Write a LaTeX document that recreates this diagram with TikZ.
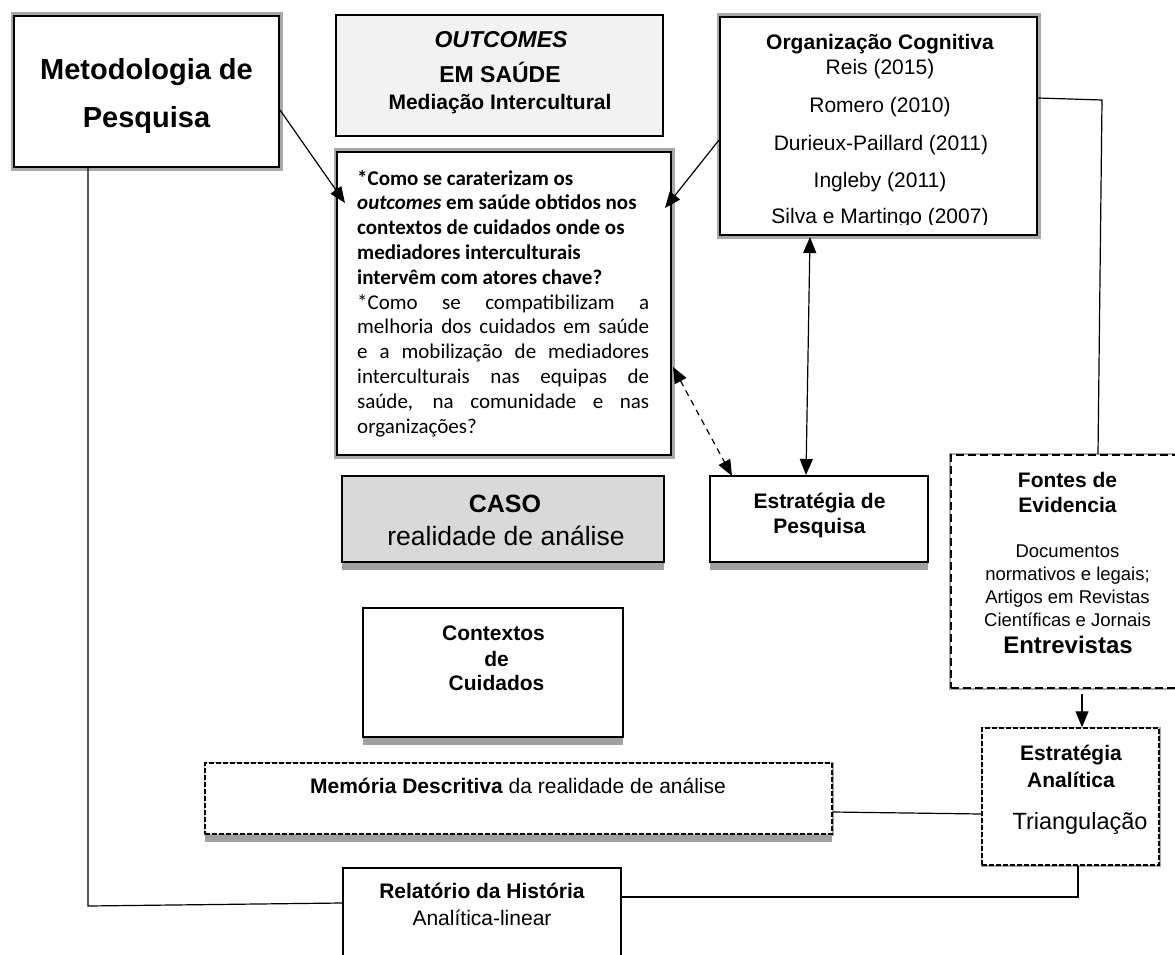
\documentclass[tikz,border=0pt]{standalone}
\usepackage{fontspec}
\setmainfont{Liberation Sans}
\newfontfamily\calib{Carlito}
\usetikzlibrary{arrows.meta}
\definecolor{shade}{HTML}{A0A0A0}
\definecolor{rim}{HTML}{A8A8A8}
\definecolor{pale}{HTML}{F2F2F2}
\definecolor{midgrey}{HTML}{D9D9D9}
\begin{document}
\begin{tikzpicture}[x=1pt,y=-1pt,
  sz/.style 2 args={minimum width=#1pt, minimum height=#2pt},
  box/.style={draw=black, line width=2pt, fill=white, rectangle, inner sep=0pt},
  rimbox/.style={box, preaction={draw=rim, line width=7pt}},
  dashbox/.style={box, dash pattern=on 8pt off 4pt, preaction={draw=rim, solid, line width=4pt}},
  finebox/.style={box, line width=1.5pt, dash pattern=on 5pt off 2pt, preaction={draw=rim, solid, line width=3pt}},
  shadowed/.style={preaction={fill=shade, draw=none, transform canvas={yshift=-8pt}}},
  t/.style={anchor=base, inner sep=0pt},
  tl/.style={anchor=base west, inner sep=0pt},
  conn/.style={line width=1.2pt},
  arr/.style={conn, -{Triangle[length=16pt,width=13pt]}},
  darr/.style={conn, {Triangle[length=16pt,width=13pt]}-{Triangle[length=16pt,width=13pt]}},
]
\useasboundingbox (0,0) rectangle (1175,955);
\clip (0,0) rectangle (1175,955);
\fill[white] (0,0) rectangle (1175,955);

% ---- boxes ----
\node[rimbox, sz={265}{151}] (meto) at (146.5,91.5) {};
\node[box, line width=1.5pt, fill=pale, sz={327}{121}] (outc) at (499.5,75.5) {};
\node[rimbox, sz={334}{303}] (ques) at (504,303.5) {};
\node[rimbox, sz={317}{218}] (org) at (878.5,126) {};
\node[box, shadowed, sz={218}{86}] (estp) at (819,519) {};
\node[box, shadowed, fill=midgrey, sz={322}{86}] (caso) at (503,519) {};
\node[box, shadowed, sz={260}{129}] (cont) at (493,672.5) {};
\node[dashbox, sz={232}{233}] (fontes) at (1067,571.5) {};
\node[finebox, sz={177}{137}] (ea) at (1070.5,796.5) {};
\node[finebox, shadowed, sz={627}{71}] (mem) at (518.5,798.5) {};
\node[box, line width=1.5pt, sz={278}{110}] (rel) at (482,923) {};

% ---- texts ----
\node[t, font=\bfseries\fontsize{29}{29}\selectfont] (meto1) at (146.5,80) {Metodologia de};
\node[t, font=\bfseries\fontsize{29}{29}\selectfont] (meto2) at (146.5,128) {Pesquisa};

\node[t, font=\bfseries\itshape\fontsize{23}{23}\selectfont] (outc1) at (501,48) {OUTCOMES};
\node[t, font=\bfseries\fontsize{23}{23}\selectfont] (outc2) at (500,83) {EM SAÚDE};
\node[t, font=\bfseries\fontsize{21}{21}\selectfont] (outc3) at (500,110) {Mediação Intercultural};

\begin{scope}[every node/.style={tl, font=\calib\fontsize{21}{21}\selectfont}]
\node (q1) at (357,185) {\bfseries *Como se caraterizam os};
\node (q2) at (357,209.8) {\bfseries\textit{outcomes} em saúde obtidos nos};
\node (q3) at (357,234.6) {\bfseries contextos de cuidados onde os};
\node (q4) at (357,259.4) {\bfseries mediadores interculturais};
\node (q5) at (357,284.2) {\bfseries intervêm com atores chave?};
\node (q6) at (357,309) {\makebox[292pt][s]{*Como se compatibilizam a}};
\node (q7) at (357,333.8) {\makebox[292pt][s]{melhoria dos cuidados em saúde}};
\node (q8) at (357,358.6) {\makebox[292pt][s]{e a mobilização de mediadores}};
\node (q9) at (357,383.4) {\makebox[292pt][s]{interculturais nas equipas de}};
\node (q10) at (357,408.2) {\makebox[292pt][s]{saúde, na comunidade e nas}};
\node (q11) at (357,433) {organizações?};
\end{scope}

\node[t, font=\bfseries\fontsize{21}{21}\selectfont] (org1) at (880,50) {Organização Cognitiva};
\begin{scope}[every node/.style={t, font=\fontsize{21}{21}\selectfont}]
\node (org2) at (880,75) {Reis (2015)};
\node (org3) at (880,113) {Romero (2010)};
\node (org4) at (881,150) {Durieux-Paillard (2011)};
\node (org5) at (880,187) {Ingleby (2011)};
\begin{scope}
\clip (720,150) rectangle (1037,224.5);
\node (org6) at (880,223) {Silva e Martingo (2007)};
\end{scope}
\end{scope}

\node[t, font=\bfseries\fontsize{21}{21}\selectfont] (estp1) at (819.5,508) {Estratégia de};
\node[t, font=\bfseries\fontsize{21}{21}\selectfont] (estp2) at (819.5,533) {Pesquisa};

\node[t, font=\bfseries\fontsize{25}{25}\selectfont] (caso1) at (505,512) {CASO};
\node[t, font=\fontsize{26.5}{26.5}\selectfont] (caso2) at (506,545) {realidade de análise};

\node[t, font=\bfseries\fontsize{21}{21}\selectfont] (cont1) at (493.5,640) {Contextos};
\node[t, font=\bfseries\fontsize{21}{21}\selectfont] (cont2) at (496.5,666) {de};
\node[t, font=\bfseries\fontsize{21}{21}\selectfont] (cont3) at (496.5,690) {Cuidados};

\node[t, font=\bfseries\fontsize{21}{21}\selectfont] (f1) at (1067.5,487) {Fontes de};
\node[t, font=\bfseries\fontsize{21}{21}\selectfont] (f2) at (1067.5,512) {Evidencia};
\node[t, font=\fontsize{18.5}{18.5}\selectfont] (f3) at (1067.5,557) {Documentos};
\node[t, font=\fontsize{18.5}{18.5}\selectfont] (f4) at (1067.5,580) {normativos e legais;};
\node[t, font=\fontsize{18.5}{18.5}\selectfont] (f5) at (1067.5,603) {Artigos em Revistas};
\node[t, font=\fontsize{18.5}{18.5}\selectfont] (f6) at (1067.5,626) {Científicas e Jornais};
\node[t, font=\bfseries\fontsize{24}{24}\selectfont] (f7) at (1068,653) {Entrevistas};

\node[t, font=\bfseries\fontsize{21}{21}\selectfont] (ea1) at (1071,760) {Estratégia};
\node[t, font=\bfseries\fontsize{21}{21}\selectfont] (ea2) at (1071,787) {Analítica};
\node[t, font=\fontsize{23.5}{23.5}\selectfont] (ea3) at (1080,829) {Triangulação};

\node[t, font=\fontsize{21}{21}\selectfont] (mem1) at (518,793) {\textbf{Memória Descritiva} da realidade de análise};

\node[t, font=\bfseries\fontsize{21}{21}\selectfont] (rel1) at (482,898) {Relatório da História};
\node[t, font=\fontsize{21}{21}\selectfont] (rel2) at (482,925) {Analítica-linear};

% ---- connectors ----
\draw[arr] (meto.east |- 0,110) -- (345,203);
\draw[arr] (org.west |- 0,140) -- (665,208);
\draw[darr] (810,237) -- (806,475);
\draw[darr, dash pattern=on 6pt off 5pt] (673,367) -- (732,476);
\draw[conn] (org.east |- 0,98) -- (1102,100) -- (fontes.north -| 1098,0);
\draw[arr] (1082,694) -- (ea.north -| 1082,0);
\draw[conn] (mem.east |- 0,812) -- (ea.west |- 0,814);
\draw[conn] (ea.south -| 1078,0) -- (1078,897) -- (rel.east |- 0,897);
\draw[conn] (meto.south -| 88,0) -- (88,906) -- (rel.west |- 0,903);
\end{tikzpicture}
\end{document}
